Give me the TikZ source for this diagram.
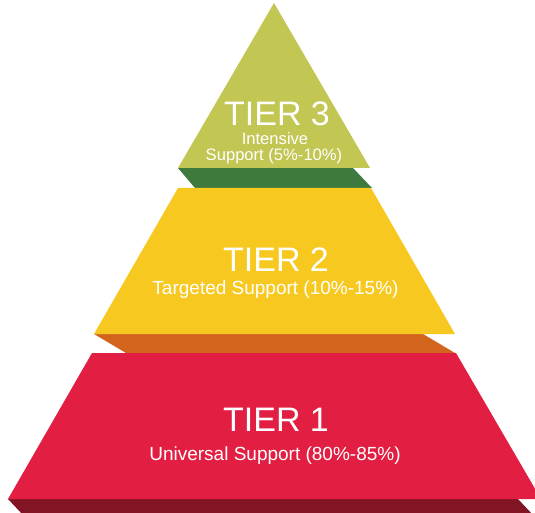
\documentclass[tikz,border=0pt]{standalone}
\usepackage{fontspec}
\setmainfont{Liberation Sans}

\definecolor{lightgreen}{HTML}{C2C653}
\definecolor{darkgreen}{HTML}{3E7A3E}
\definecolor{tieryellow}{HTML}{F7C920}
\definecolor{tierorange}{HTML}{D2641E}
\definecolor{tierred}{HTML}{E21F42}
\definecolor{darkred}{HTML}{821523}

\tikzset{
  tiertitle/.style={text=white, anchor=base, inner sep=0pt, font=\fontsize{34}{34}\selectfont},
  tiertext/.style={text=white, anchor=base, inner sep=0pt, font=\fontsize{19}{19}\selectfont},
  tiersmall/.style={text=white, anchor=base, inner sep=0pt, font=\fontsize{16.6}{16.6}\selectfont}
}

\begin{document}
\begin{tikzpicture}[x=1pt,y=-1pt]
\useasboundingbox (0,0) rectangle (535,513);
\clip (0,0) rectangle (535,513);
% side bands
\fill[darkgreen] (178,168) -- (353,168) -- (372,188) -- (195,188) -- cycle;
\fill[tierorange] (94,334) -- (423,334) -- (455,353) -- (126,353) -- cycle;
\fill[darkred] (8,499) -- (518,499) -- (534,516) -- (24,516) -- cycle;
% faces
\fill[lightgreen] (274,3) -- (370,168) -- (178,168) -- cycle;
\fill[tieryellow] (178,188) -- (371,188) -- (455,334) -- (94,334) -- cycle;
\fill[tierred] (92,353) -- (456,353) -- (541,499) -- (8,499) -- cycle;
% labels
\node[tiertitle] (t3) at (277,126) {TIER 3};
\node[tiersmall] (t3a) at (275,145) {Intensive};
\node[tiersmall] (t3b) at (274,161) {Support (5\%-10\%)};
\node[tiertitle] (t2) at (276,271) {TIER 2};
\node[tiertext] (t2a) at (275.5,294) {Targeted Support (10\%-15\%)};
\node[tiertitle] (t1) at (276,431) {TIER 1};
\node[tiertext] (t1a) at (275,460) {Universal Support (80\%-85\%)};
\end{tikzpicture}
\end{document}
